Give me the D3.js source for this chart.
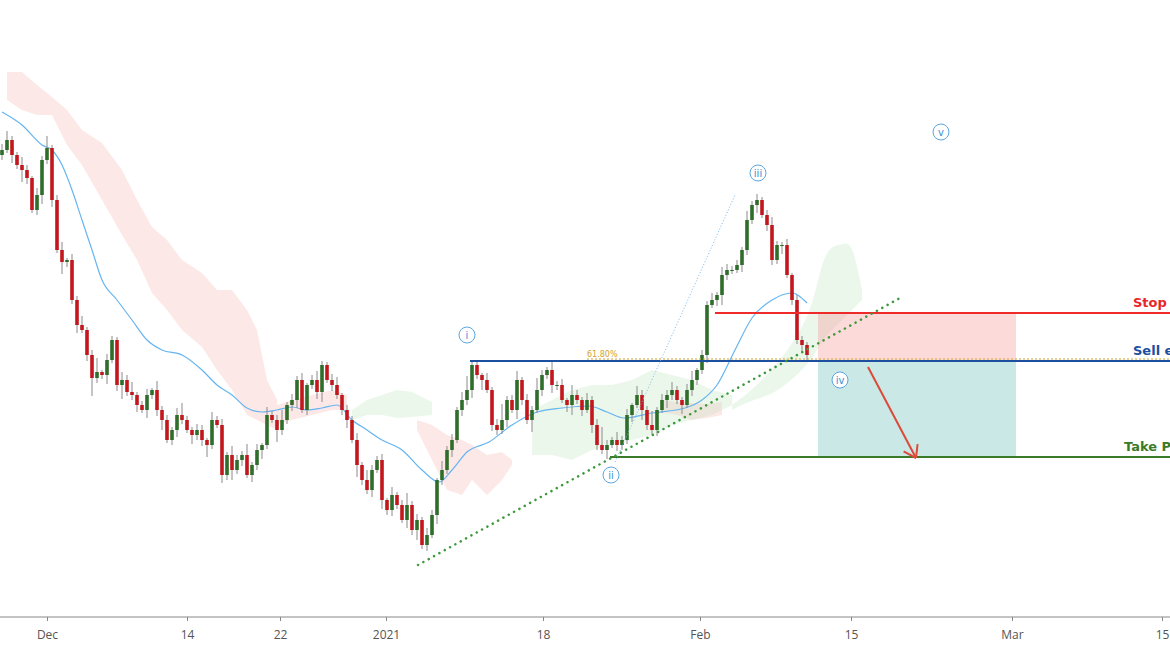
<!DOCTYPE html>
<html><head><meta charset="utf-8">
<script src="https://cdn.jsdelivr.net/npm/d3@7/dist/d3.min.js"></script>
<style>body{margin:0;background:#fff}svg{display:block}</style>
</head><body><svg id="c" width="1170" height="650"></svg>
<script>
const closes=[850,860,845,835,830,822,790,805,840,852,800,750,738,740,700,675,670,645,622,628,625,640,660,615,620,608,605,595,590,605,610,590,580,560,570,585,580,570,565,570,560,555,580,575,525,545,530,540,545,525,535,550,555,585,580,570,580,595,600,620,590,615,620,608,635,620,615,605,590,580,560,535,520,510,530,540,500,490,505,495,480,495,470,480,455,465,485,520,530,550,560,590,600,610,635,625,620,610,575,570,580,600,590,620,600,580,590,610,625,630,615,615,600,595,605,600,590,600,575,555,550,555,560,555,560,585,595,605,590,575,570,590,600,605,610,600,595,610,620,630,645,695,700,705,725,730,730,735,750,780,795,800,785,775,740,755,755,725,700,660,655,645];
const hiW=[6,9,4,3,8,5,2,7,4,12,3,5,8,2,6,4,9,3,5,14,2,6,4,3,8,5,10,3,4,6,2,9,4,5,3,7,12,4,3,6,5,2,8,4,6,3,9,5,4,11,3,6,2,8,4,5,10,3,6,4,7,2,5,9,4,3,6,8,2,5,4,7,3,10,5,4,6,2,8,3,5,12,4,6,3,7,5,2,9,4,6,3,8,14,5,4,2,7,3,6,16,4,5,9,3,6,4,12,5,3,8,4,6,2,10,5,3,7,4,6,18,5,3,8,4,6,2,9,5,4,14,3,6,5,8,4,3,6,9,2,5,4,7,3,8,6,4,5,3,9,4,6,3,5,8,4,3,6,2,5,4,3];
const loW=[5,3,8,4,12,6,3,5,9,4,7,3,12,5,4,8,3,6,18,5,4,9,3,6,14,4,5,7,3,8,4,6,10,3,5,7,4,3,9,5,6,12,4,3,8,5,10,4,6,3,7,5,9,4,3,12,5,4,6,8,3,5,4,7,10,3,6,4,5,8,3,12,5,4,7,3,9,5,6,4,3,8,5,10,4,6,3,9,5,4,7,3,6,5,8,4,10,3,6,5,4,7,3,9,5,4,12,3,6,4,8,5,3,7,10,4,6,3,8,5,4,9,3,6,5,4,7,3,10,5,4,6,3,8,5,4,9,3,6,5,4,8,3,6,10,5,4,3,7,5,4,8,3,6,5,4,9,3,5,4,6,6];
const maIdx=[0,4,8,10,12,14,16,18,20,23,26,29,32,36,40,43,46,49,52,55,58,61,64,67,70,73,76,80,84,87.4,90,93,97.4,102,107,112,117.4,121,124.4,130,136.6,140,143,146.6,150,154,158,161];
const maVal=[888,875,855,850,835,810,780,750,720,700,680,660,650,645,630,615,605,592,588,590,593,590,592,595,580,570,560,550,530,518,530,548,558,575,588,592,594,588,582,587,592,600,615,650,682,700,707,697];
const tickIdx=[9,37,55.6,76.8,108.2,139.6,169.8,202,232];
const tickLabels=["Dec","14","22","2021","18","Feb","15","Mar","15"];
const pinkIdx=[1,4,7,10,13,16,20,24,27,30,33,36,40,43,46,49,51,53,55];
const pinkTop=[928,928,915,903,890,870,857,830,800,773,760,740,727,710,710,690,670,620,600];
const pinkBot=[900,890,885,885,855,835,800,765,740,707,690,670,653,630,610,585,580,575,570];
const pink2Idx=[55,58,62,66,69];const pink2Top=[595,600,605,610,605];const pink2Bot=[575,580,585,590,590];
const pink3Idx=[83,86,89,92,94,97,100,102];const pink3Top=[580,575,565,560,555,545,548,540];const pink3Bot=[570,540,510,505,520,505,520,535];
const pink4Idx=[132,135,138,141,144];const pink4Top=[600,598,597,596,598];const pink4Bot=[588,585,580,582,585];
const grnIdx=[70,73,76,79,82,86];const grnTop=[590,600,605,610,608,598];const grnBot=[580,585,585,582,583,585];
const grn2Idx=[106,110,114,118,122,126,130,134,138,142,146];const grn2Top=[590,600,610,615,615,620,630,625,620,610,605];const grn2Bot=[545,545,540,550,555,560,565,575,580,585,595];
const grn3Idx=[146,150,154,158,162,164,166,168,170,172];const grn3Top=[595,610,630,655,690,740,755,755,760,710];const grn3Bot=[590,600,605,620,640,660,670,680,690,700];
const stopVal=687, entryVal=639, fibVal=641, tpVal=543;
const trendA=[83.2,435], trendB=[179.6,702];
const blueDotA=[122.6,538], blueDotB=[146.6,805];
const waves=[["i",93,665],["ii",121.8,525],["iii",151.2,827],["iv",167.6,620],["v",187.8,868]];
const arrowA=[173.2,633], arrowB=[182.8,542];
const zoneIdx=[163.2,202.8];

const svg=d3.select("#c");
const x=d3.scaleLinear().domain([0,233.6]).range([2,1170]);
const y=d3.scaleLinear().domain([383,1000]).range([617,0]);
function cloud(ix,t,b,col,cv){
  const d=ix.map((v,i)=>({i:v,t:t[i],b:b[i]}));
  svg.append("path").attr("d",d3.area().x(o=>x(o.i)).y0(o=>y(o.b)).y1(o=>y(o.t)).curve(cv||d3.curveLinear)(d)).attr("fill",col);
}
const PK="rgba(250,190,190,0.35)",GR="rgba(180,225,180,0.25)";
cloud(pinkIdx,pinkTop,pinkBot,PK);cloud(pink2Idx,pink2Top,pink2Bot,PK);cloud(pink3Idx,pink3Top,pink3Bot,PK);cloud(pink4Idx,pink4Top,pink4Bot,PK);
cloud(grnIdx,grnTop,grnBot,GR);cloud(grn2Idx,grn2Top,grn2Bot,GR);cloud(grn3Idx,grn3Top,grn3Bot,GR,d3.curveBasis);
svg.append("rect").attr("x",x(zoneIdx[0])).attr("y",y(stopVal)).attr("width",x(zoneIdx[1])-x(zoneIdx[0])).attr("height",y(entryVal)-y(stopVal)).attr("fill","rgba(245,120,120,0.27)");
svg.append("rect").attr("x",x(zoneIdx[0])).attr("y",y(entryVal)).attr("width",x(zoneIdx[1])-x(zoneIdx[0])).attr("height",y(tpVal)-y(entryVal)).attr("fill","rgba(80,180,170,0.3)");
svg.append("path").attr("d",d3.line().x((d,i)=>x(maIdx[i])).y(d=>y(d)).curve(d3.curveMonotoneX)(maVal)).attr("fill","none").attr("stroke","#66b5f0").attr("stroke-width",1.2);
const data=closes.map((c,i)=>{const o=i?closes[i-1]:845;return {i,o,c,h:Math.max(o,c)+hiW[i],l:Math.min(o,c)-loW[i]};});
const g=svg.append("g");
g.selectAll("line").data(data).join("line").attr("x1",d=>x(d.i)).attr("x2",d=>x(d.i)).attr("y1",d=>y(d.h)).attr("y2",d=>y(d.l)).attr("stroke","#8a8a8a").attr("stroke-width",1);
g.selectAll("rect").data(data).join("rect").attr("x",d=>x(d.i)-1.8).attr("width",3.6).attr("y",d=>y(Math.max(d.o,d.c))).attr("height",d=>Math.max(1,Math.abs(y(d.o)-y(d.c)))).attr("fill",d=>d.c>=d.o?"#2e6e2a":"#c1171d");
svg.append("line").attr("x1",x(142.6)).attr("x2",1170).attr("y1",y(stopVal)).attr("y2",y(stopVal)).attr("stroke","#ee2a2a").attr("stroke-width",2);
svg.append("line").attr("x1",x(93.6)).attr("x2",1170).attr("y1",y(entryVal)).attr("y2",y(entryVal)).attr("stroke","#1d4fa0").attr("stroke-width",2.2);
svg.append("line").attr("x1",x(117)).attr("x2",1170).attr("y1",y(fibVal)).attr("y2",y(fibVal)).attr("stroke","#d4a22c").attr("stroke-width",1.2).attr("stroke-dasharray","2,2");
svg.append("text").attr("x",x(117)).attr("y",y(fibVal)-2).text("61.80%").attr("font-family","DejaVu Sans").attr("font-size",8).attr("fill","#d4a22c");
svg.append("line").attr("x1",x(121.6)).attr("x2",1170).attr("y1",y(tpVal)).attr("y2",y(tpVal)).attr("stroke","#3b7a27").attr("stroke-width",2);
svg.append("line").attr("x1",x(trendA[0])).attr("y1",y(trendA[1])).attr("x2",x(trendB[0])).attr("y2",y(trendB[1])).attr("stroke","#3a9a3a").attr("stroke-width",2.5).attr("stroke-dasharray","0.1,6").attr("stroke-linecap","round");
svg.append("line").attr("x1",x(blueDotA[0])).attr("y1",y(blueDotA[1])).attr("x2",x(blueDotB[0])).attr("y2",y(blueDotB[1])).attr("stroke","#7ab8ee").attr("stroke-width",1).attr("stroke-dasharray","1,2");
const lbl=[["Stop",stopVal,1133,"#e8262a"],["Sell entry",entryVal,1133,"#1d4fa0"],["Take Profit",tpVal,1124,"#3b7a27"]];
lbl.forEach(l=>svg.append("text").attr("x",l[2]).attr("y",y(l[1])-6).text(l[0]).attr("font-family","DejaVu Sans").attr("font-weight","bold").attr("font-size",13).attr("fill",l[3]));
waves.forEach(w=>{const cx=x(w[1]),cy=y(w[2]);
 svg.append("circle").attr("cx",cx).attr("cy",cy).attr("r",8).attr("fill","#fff").attr("stroke","#5ba7e0").attr("stroke-width",1);
 svg.append("text").attr("x",cx).attr("y",cy+3.5).attr("text-anchor","middle").text(w[0]).attr("font-family","DejaVu Sans").attr("font-size",10).attr("fill","#3d8fd6");});
const ax1=x(arrowA[0]),ay1=y(arrowA[1]),ax2=x(arrowB[0]),ay2=y(arrowB[1]);
svg.append("line").attr("x1",ax1).attr("y1",ay1).attr("x2",ax2).attr("y2",ay2).attr("stroke","#db4a3a").attr("stroke-width",2);
const ang=Math.atan2(ay2-ay1,ax2-ax1);
[0.6,-0.6].forEach(a=>svg.append("line").attr("x1",ax2).attr("y1",ay2).attr("x2",ax2-14*Math.cos(ang+a)).attr("y2",ay2-14*Math.sin(ang+a)).attr("stroke","#db4a3a").attr("stroke-width",2));
const axis=d3.axisBottom(x).tickValues(tickIdx).tickFormat((d,i)=>tickLabels[i]).tickSize(4).tickPadding(9);
const ag=svg.append("g").attr("transform","translate(0,617)").call(axis);
ag.select(".domain").attr("stroke","#888").attr("d","M0,0H1170");
ag.selectAll("line").attr("stroke","#888");
ag.selectAll("text").attr("font-family","Open Sans").attr("font-size",12).attr("fill","#555");
</script></body></html>
